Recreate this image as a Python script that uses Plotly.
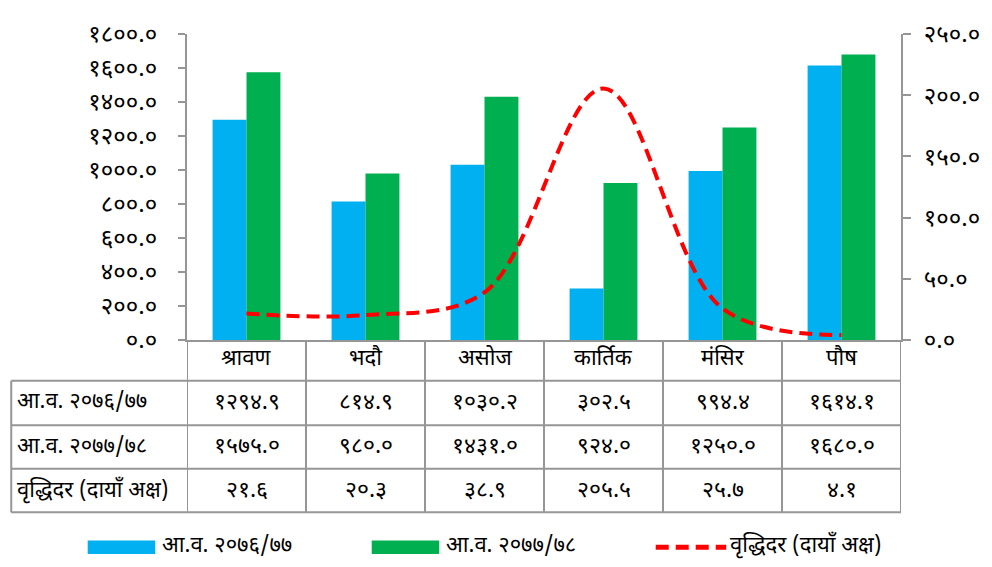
import plotly.graph_objects as go

months = ["श्रावण", "भदौ", "असोज", "कार्तिक", "मंसिर", "पौष"]
series_names = ["आ.व. २०७६/७७", "आ.व. २०७७/७८", "वृद्धिदर (दायाँ अक्ष)"]
fy_2076_77 = [1294.9, 814.9, 1030.2, 302.5, 994.4, 1614.1]
fy_2077_78 = [1575.0, 980.0, 1431.0, 924.0, 1250.0, 1680.0]
growth_rate = [21.6, 20.3, 38.9, 205.5, 25.7, 4.1]
left_ticks = [0, 200, 400, 600, 800, 1000, 1200, 1400, 1600, 1800]
right_ticks = [0, 50, 100, 150, 200, 250]

DEV = str.maketrans("0123456789", "०१२३४५६७८९")


def dev(v):
    return f"{v:.1f}".translate(DEV)


BLUE = "#00B0F0"
GREEN = "#00B050"
RED = "#FF0000"
GRAY = "#969696"
FONT = "Noto Sans Devanagari, Noto Sans, sans-serif"

OFF = 8  # page body margin
PAGE_W, PAGE_H = 992, 567
W, H = PAGE_W - OFF, PAGE_H - OFF
L, R, T, B = 187, 906, 24, 340  # plot area in page pixels


def px(x):
    return (x - L) / (R - L)


def py(y):
    return (B - y) / (B - T)


TXT = 22
NUM = 23
LEG = 22

fig = go.Figure()
fig.add_trace(go.Bar(x=months, y=fy_2076_77, name=series_names[0],
                     marker=dict(color=BLUE, line=dict(width=0))))
fig.add_trace(go.Bar(x=months, y=fy_2077_78, name=series_names[1],
                     marker=dict(color=GREEN, line=dict(width=0))))
fig.add_trace(go.Scatter(x=months, y=growth_rate, name=series_names[2], yaxis="y2",
                         mode="lines",
                         line=dict(color=RED, width=4, dash="13px,7px",
                                   shape="spline", smoothing=1.0)))

shapes = []
annotations = []

row_lines = [382, 428, 473, 518]
for i in range(len(months) + 1):
    shapes.append(dict(type="line", xref="x", yref="paper",
                       x0=i - 0.5, x1=i - 0.5, y0=py(340), y1=py(518),
                       line=dict(color=GRAY, width=2)))
shapes.append(dict(type="line", xref="paper", yref="paper",
                   x0=px(10), x1=px(10), y0=py(382), y1=py(518),
                   line=dict(color=GRAY, width=2)))
for r in row_lines:
    shapes.append(dict(type="line", xref="paper", yref="paper",
                       x0=px(10), x1=px(906), y0=py(r), y1=py(r),
                       line=dict(color=GRAY, width=2)))

for m in months:
    annotations.append(dict(x=m, xref="x", y=py(360), yref="paper", text=m,
                            showarrow=False, font=dict(size=TXT, color="black", family=FONT),
                            xanchor="center", yanchor="middle"))
row_centers = [405, 451, 496]
rows = [fy_2076_77, fy_2077_78, growth_rate]
for name, vals, yc in zip(series_names, rows, row_centers):
    annotations.append(dict(x=px(14), xref="paper", y=py(yc), yref="paper", text=name,
                            showarrow=False, font=dict(size=TXT, color="black", family=FONT),
                            xanchor="left", yanchor="middle"))
    for m, v in zip(months, vals):
        annotations.append(dict(x=m, xref="x", y=py(yc), yref="paper", text=dev(v),
                                showarrow=False, font=dict(size=NUM, color="black", family=FONT),
                                xanchor="center", yanchor="middle"))

leg_y = 554
shapes.append(dict(type="rect", xref="paper", yref="paper",
                   x0=px(87), x1=px(155), y0=py(547), y1=py(561),
                   fillcolor=BLUE, line=dict(width=0)))
shapes.append(dict(type="rect", xref="paper", yref="paper",
                   x0=px(373), x1=px(441), y0=py(547), y1=py(561),
                   fillcolor=GREEN, line=dict(width=0)))
shapes.append(dict(type="line", xref="paper", yref="paper",
                   x0=px(659), x1=px(730), y0=py(leg_y), y1=py(leg_y),
                   line=dict(color=RED, width=5, dash="13px,7px")))
for xs, name in zip([160, 446, 732], series_names):
    annotations.append(dict(x=px(xs), xref="paper", y=py(leg_y - 1), yref="paper", text=name,
                            showarrow=False, font=dict(size=LEG, color="black", family=FONT),
                            xanchor="left", yanchor="middle"))

fig.update_layout(
    width=W, height=H,
    margin=dict(l=L - OFF, r=PAGE_W - R, t=T - OFF, b=PAGE_H - B, pad=0),
    plot_bgcolor="white", paper_bgcolor="white",
    barmode="group", bargap=0.43, bargroupgap=0,
    showlegend=False,
    font=dict(family=FONT, size=TXT, color="black"),
    xaxis=dict(showticklabels=False, ticks="", showgrid=False, zeroline=False,
               showline=True, linecolor=GRAY, linewidth=2, range=[-0.5, 5.5]),
    yaxis=dict(range=[0, 1800], tickvals=left_ticks, ticktext=[dev(v) for v in left_ticks],
               showgrid=False, zeroline=False, showline=True, linecolor=GRAY, linewidth=2,
               ticks="outside", ticklen=7, tickcolor=GRAY, tickwidth=2,
               ticklabelstandoff=16, tickfont=dict(size=24, family=FONT)),
    yaxis2=dict(range=[0, 250], tickvals=right_ticks, ticktext=[dev(v) for v in right_ticks],
                overlaying="y", side="right", showgrid=False, zeroline=False,
                showline=True, linecolor=GRAY, linewidth=2,
                ticks="outside", ticklen=8, tickcolor=GRAY, tickwidth=2,
                ticklabelstandoff=8, tickfont=dict(size=24, family=FONT)),
    shapes=shapes, annotations=annotations,
)

fig.write_html("out.html")
